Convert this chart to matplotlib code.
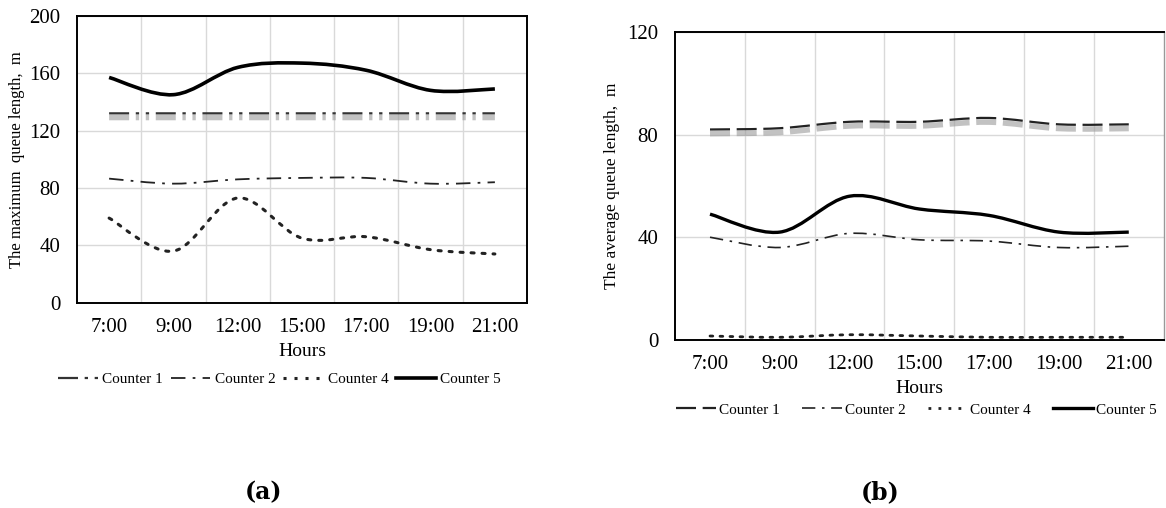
import matplotlib.pyplot as plt
import matplotlib.patheffects as pe
from matplotlib.path import Path
from matplotlib.patches import PathPatch
from matplotlib.lines import Line2D
import numpy as np

plt.rcParams['font.family'] = ['Liberation Serif', 'DejaVu Serif']

# hours on the x axis
hours = ['7:00', '9:00', '12:00', '15:00', '17:00', '19:00', '21:00']

# (a) maximum queue length, m
max_c1 = [132, 132, 132, 132, 132, 132, 132]
max_c2 = [86.5, 83, 86, 87, 87, 83, 84]
max_c4 = [59, 36, 73, 45, 46, 37, 34]
max_c5 = [157, 145, 164, 167, 162, 148, 149]

# (b) average queue length, m
avg_c1 = [82, 82.5, 85, 85, 86.5, 84, 84]
avg_c2 = [40, 36, 41.5, 39, 38.5, 36, 36.5]
avg_c4 = [1.5, 1, 2, 1.5, 1, 1, 1]
avg_c5 = [49, 42, 56, 51, 48.5, 42, 42]


def smooth_path(y):
    # excel-like smoothed line: cubic bezier through every point
    x = np.arange(len(y), dtype=float)
    p = np.column_stack([x, np.asarray(y, dtype=float)])
    pts = [p[0]]
    codes = [Path.MOVETO]
    n = len(p)
    for i in range(n - 1):
        p0 = p[max(i - 1, 0)]
        p3 = p[min(i + 2, n - 1)]
        c1 = p[i] + (p[i + 1] - p0) / 6
        c2 = p[i + 1] - (p3 - p[i]) / 6
        pts += [c1, c2, p[i + 1]]
        codes += [Path.CURVE4] * 3
    return Path(pts, codes)


shadow = [pe.SimpleLineShadow(offset=(0, -3), shadow_color='#9a9a9a',
                              alpha=0.6, linewidth=4), pe.Normal()]


def draw(ax, y, **kw):
    patch = PathPatch(smooth_path(y), fill=False, **kw)
    ax.add_patch(patch)
    return patch


def style(ax, ymax, step, ylabel, lsize, lpad):
    ax.set_xlim(-0.5, len(hours) - 0.5)
    ax.set_ylim(0, ymax)
    ax.set_yticks(np.arange(0, ymax + 1, step))
    ax.set_xticks(range(len(hours)))
    ax.set_xticklabels(hours)
    ax.set_xticks(np.arange(0.5, len(hours) - 1), minor=True)
    ax.grid(True, which='minor', axis='x', color='#d9d9d9', lw=1)
    ax.grid(True, which='major', axis='y', color='#d9d9d9', lw=1)
    ax.tick_params(which='both', length=0, labelsize=15)
    ax.tick_params(axis='y', pad=12)
    ax.tick_params(axis='x', pad=11)
    for s in ax.spines.values():
        s.set_color('black')
        s.set_linewidth(1.4)
    ax.set_xlabel('Hours', fontsize=14, labelpad=4)
    ax.set_ylabel(ylabel, fontsize=lsize, labelpad=lpad)
    ax.set_axisbelow(True)


fig = plt.figure(figsize=(11.66, 5.08), dpi=100)

ls_c2 = (0, (8, 4, 1.5, 4))
ls_c4 = (0, (1, 2.6))

# ---- (a)
ax1 = fig.add_axes([0.066, 0.404, 0.386, 0.565])
ls_c1a = (0, (9, 3, 1.5, 3, 1.5, 3))
draw(ax1, max_c1, color='#333333', lw=1.6, linestyle=ls_c1a, path_effects=shadow)
draw(ax1, max_c2, color='#222222', lw=1.3, linestyle=ls_c2)
draw(ax1, max_c4, color='#222222', lw=2.2, linestyle=ls_c4, capstyle='round')
draw(ax1, max_c5, color='black', lw=2.6)
style(ax1, 200, 40, 'The maximum  queue length,  m', 12, 3)

h1 = [Line2D([], [], color='#333333', lw=1.6, linestyle=ls_c1a),
      Line2D([], [], color='#222222', lw=1.3, linestyle=ls_c2),
      Line2D([], [], color='#222222', lw=2.2, linestyle=ls_c4),
      Line2D([], [], color='black', lw=2.6)]
ax1.legend(h1, ['Counter 1', 'Counter 2', 'Counter 4', 'Counter 5'],
           loc='upper center', bbox_to_anchor=(0.45, -0.195), ncol=4,
           frameon=False, fontsize=11, handlelength=2.6, handletextpad=0.3,
           columnspacing=0.5)

# ---- (b)
ax2 = fig.add_axes([0.579, 0.331, 0.419, 0.606])
ls_c1b = (0, (9, 3))
draw(ax2, avg_c1, color='#222222', lw=1.6, linestyle=ls_c1b, path_effects=shadow)
draw(ax2, avg_c2, color='#222222', lw=1.2, linestyle=ls_c2)
draw(ax2, avg_c4, color='#222222', lw=2.0, linestyle=ls_c4, capstyle='round')
draw(ax2, avg_c5, color='black', lw=2.4)
style(ax2, 120, 40, 'The average queue length,  m', 12.5, 5)
ax2.spines['right'].set_color('#999999')
ax2.spines['right'].set_linewidth(1)

h2 = [Line2D([], [], color='#222222', lw=1.6, linestyle=ls_c1b),
      Line2D([], [], color='#222222', lw=1.2, linestyle=ls_c2),
      Line2D([], [], color='#222222', lw=2.0, linestyle=ls_c4),
      Line2D([], [], color='black', lw=2.4)]
ax2.legend(h2, ['Counter 1', 'Counter 2', 'Counter 4', 'Counter 5'],
           loc='upper center', bbox_to_anchor=(0.494, -0.16), ncol=4,
           frameon=False, fontsize=11, handlelength=2.6, handletextpad=0.2,
           columnspacing=1.45)

fig.text(0.226, 0.018, '(a)', fontsize=17, fontweight='bold', ha='center',
         family=['DejaVu Serif'])
fig.text(0.755, 0.018, '(b)', fontsize=17, fontweight='bold', ha='center',
         family=['DejaVu Serif'])

fig.savefig('out.png', dpi=100)
